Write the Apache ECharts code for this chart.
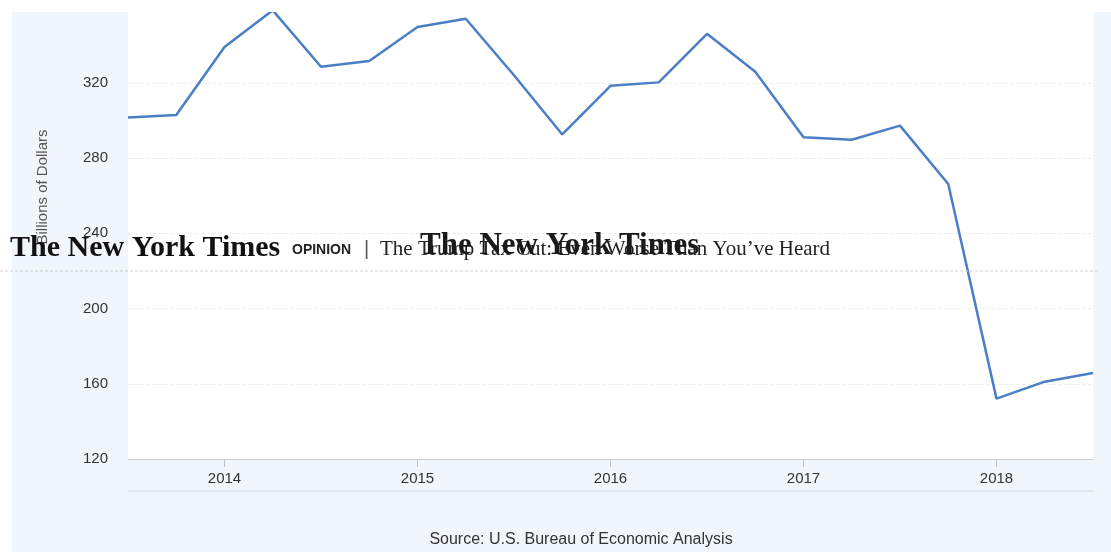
<!DOCTYPE html>
<html>
<head>
<meta charset="utf-8">
<script src="https://cdn.jsdelivr.net/npm/echarts@6/dist/echarts.min.js"></script>
<style>
  html, body { margin: 0; padding: 0; background: #fff; }
  #main { width: 1111px; height: 552px; }
</style>
</head>
<body>
<div id="main"></div>
<script>
// quarters along the x axis
var quarters = ['2013 Q3', '2013 Q4',
  '2014 Q1', '2014 Q2', '2014 Q3', '2014 Q4',
  '2015 Q1', '2015 Q2', '2015 Q3', '2015 Q4',
  '2016 Q1', '2016 Q2', '2016 Q3', '2016 Q4',
  '2017 Q1', '2017 Q2', '2017 Q3', '2017 Q4',
  '2018 Q1', '2018 Q2', '2018 Q3'];
// billions of dollars
var revenue = [301.5, 302.9,
  339, 358.5, 328.5, 331.6,
  349.6, 354, 324, 292.5,
  318.4, 320.2, 346, 325.8,
  291, 289.7, 297.2, 266.2,
  152.1, 161.1, 165.7];
var yearTicks = ['2014 Q1', '2015 Q1', '2016 Q1', '2017 Q1', '2018 Q1'];

var headline = 'The Trump Tax Cut: Even Worse Than You\u2019ve Heard';

function isYear(i, v) { return yearTicks.indexOf(v) >= 0; }

var chart = echarts.init(document.getElementById('main'));
chart.setOption({
  backgroundColor: '#f0f6fb',
  animation: false,
  grid: {
    left: 128, right: 18, top: 5.4, bottom: 93,
    show: true, backgroundColor: '#fff', borderWidth: 0
  },
  xAxis: {
    type: 'category',
    data: quarters,
    boundaryGap: false,
    axisLine: { lineStyle: { color: '#c9ccd0', width: 1 } },
    axisTick: { interval: isYear, length: 8, lineStyle: { color: '#bfc3c7' } },
    axisLabel: {
      interval: isYear, margin: 12,
      fontFamily: 'Liberation Sans', fontSize: 15, color: '#333',
      formatter: function (v) { return v.slice(0, 4); }
    },
    splitLine: { show: false }
  },
  yAxis: {
    type: 'value',
    min: 120, max: 360, interval: 40,
    axisLine: { show: false },
    axisTick: { show: false },
    axisLabel: { margin: 20, fontFamily: 'Liberation Sans', fontSize: 15, color: '#333' },
    splitLine: { lineStyle: { color: '#eceef0', type: 'dashed' } }
  },
  series: [{
    type: 'line',
    data: revenue,
    symbol: 'none',
    lineStyle: { color: '#4a7fc6', width: 2.5 },
    z: 3
  }],
  graphic: [
    // scan margins
    { type: 'rect', shape: { x: 0, y: 0, width: 1111, height: 12 }, style: { fill: '#fff' }, z: 50 },
    { type: 'rect', shape: { x: 0, y: 0, width: 12, height: 552 }, style: { fill: '#fff' }, z: 50 },
    // bottom rule under the year labels
    { type: 'line', shape: { x1: 128, y1: 491, x2: 1093, y2: 491 }, style: { stroke: '#d3d7db', lineWidth: 1 }, z: 5 },
    // y axis title
    { type: 'text', x: 43, y: 187, rotation: Math.PI / 2,
      style: { text: 'Billions of Dollars', font: '15px "Liberation Sans"', fill: '#555', align: 'center', verticalAlign: 'middle' }, z: 10 },
    // source
    { type: 'text', x: 581, y: 540,
      style: { text: 'Source: U.S. Bureau of Economic Analysis', font: '16px "Liberation Sans"', fill: '#333', align: 'center', verticalAlign: 'middle' }, z: 10 },
    // overlaid newspaper header
    { type: 'line', shape: { x1: 0, y1: 271, x2: 1100, y2: 271 }, style: { stroke: '#d0d0d0', lineWidth: 1, lineDash: [3, 2] }, z: 60 },
    { type: 'text', x: 10, y: 248,
      style: { text: 'The New York Times', font: 'bold 30px "Liberation Serif"', fill: '#111', align: 'left', verticalAlign: 'middle' }, z: 60 },
    { type: 'text', x: 292, y: 250,
      style: { text: 'OPINION', font: 'bold 14px "Liberation Sans"', fill: '#222', align: 'left', verticalAlign: 'middle' }, z: 60 },
    { type: 'text', x: 364, y: 249,
      style: { text: '|', font: '20px "Liberation Sans"', fill: '#555', align: 'left', verticalAlign: 'middle' }, z: 60 },
    { type: 'text', x: 380, y: 249,
      style: { text: headline, font: '21px "Liberation Serif"', fill: '#222', align: 'left', verticalAlign: 'middle' }, z: 60 },
    { type: 'text', x: 420, y: 246,
      style: { text: 'The New York Times', font: 'bold 31px "Liberation Serif"', fill: '#1a1a1a', align: 'left', verticalAlign: 'middle' }, z: 61 }
  ]
});
</script>
</body>
</html>
